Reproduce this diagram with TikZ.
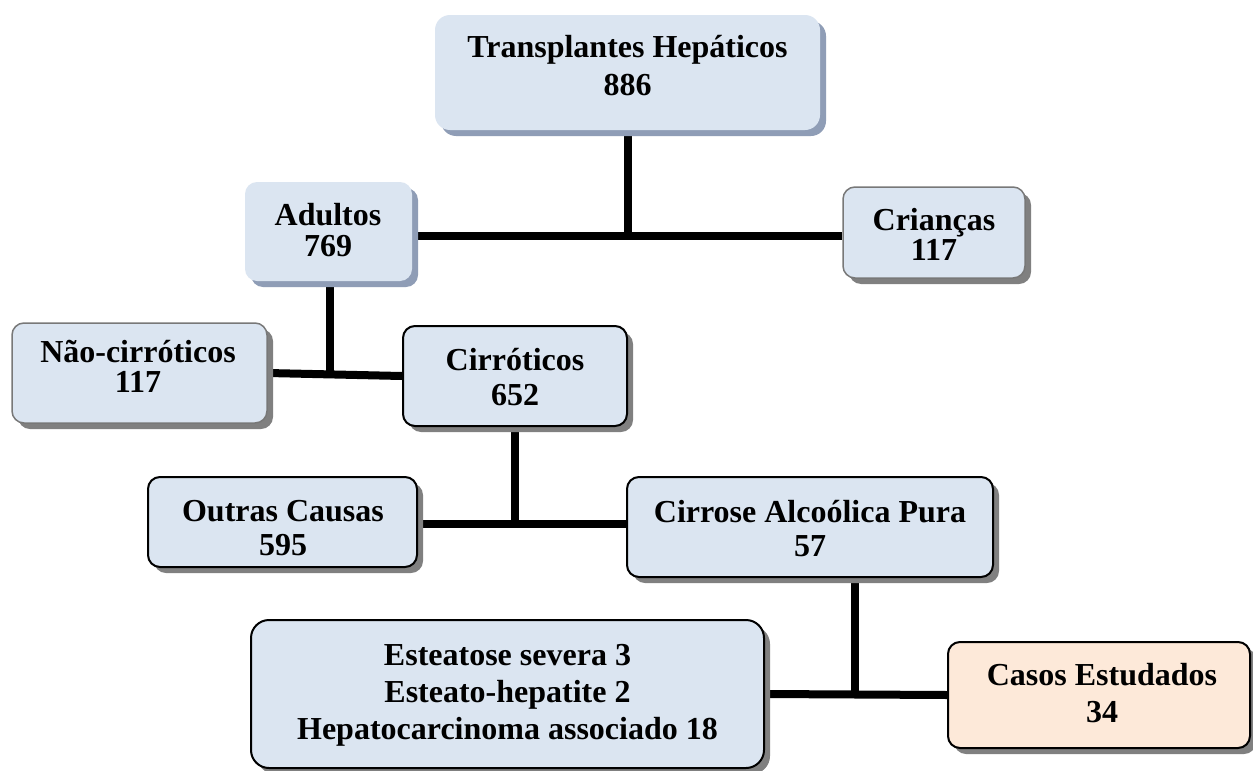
\documentclass[tikz,border=0pt]{standalone}
\usepackage{fontspec}
\setmainfont{Liberation Serif}
\usetikzlibrary{shadows,backgrounds}
\definecolor{boxfill}{RGB}{219,229,241}
\definecolor{peach}{RGB}{253,233,217}
\definecolor{shblue}{RGB}{143,157,182}
\definecolor{shgray}{RGB}{128,128,128}
\definecolor{edgegray}{RGB}{120,120,120}
\tikzset{
  box/.style={rounded corners=12pt, fill=boxfill, inner sep=0pt},
  shb/.style={drop shadow={shadow xshift=6pt,shadow yshift=-6pt,fill=shblue,opacity=1}},
  shg/.style={drop shadow={shadow xshift=6pt,shadow yshift=-6pt,fill=shgray,opacity=1}},
  darkedge/.style={draw=black,line width=2pt},
  grayedge/.style={draw=edgegray,line width=1.5pt},
  txt/.style={anchor=base,inner sep=0pt,font=\fontsize{32}{37}\selectfont\bfseries},
  conn/.style={line width=8pt, draw=black},
}
\begin{document}
\begin{tikzpicture}[x=1pt,y=-1pt]
\useasboundingbox (0,0) rectangle (1253,771);
% boxes
\node[box,shb,rounded corners=15pt,minimum width=385pt,minimum height=115pt] (top) at (627.5,72.5) {};
\node[box,shb,minimum width=167pt,minimum height=99pt] (adultos) at (328.5,231.5) {};
\node[box,shg,grayedge,minimum width=182pt,minimum height=91pt] (criancas) at (934,232.5) {};
\node[box,shg,grayedge,minimum width=255pt,minimum height=100pt] (nao) at (139.5,373) {};
\node[box,shg,darkedge,minimum width=224pt,minimum height=100pt] (cirr) at (515,376) {};
\node[box,shg,darkedge,minimum width=269pt,minimum height=90pt] (outras) at (282.5,522) {};
\node[box,shg,darkedge,minimum width=366pt,minimum height=100pt] (cirrose) at (810,527) {};
\node[box,shg,darkedge,rounded corners=18pt,minimum width=513pt,minimum height=148pt] (esteat) at (507.5,694) {};
\node[box,shg,darkedge,fill=peach,minimum width=302pt,minimum height=106pt] (casos) at (1099,695) {};
% texts
\node[txt] (t-top) at (627.5,57) {\begin{tabular}[t]{@{}c@{}}Transplantes Hepáticos\\[1pt]886\end{tabular}};
\node[txt] (t-adultos) at (328,225) {\begin{tabular}[t]{@{}c@{}}Adultos\\[-6pt]769\end{tabular}};
\node[txt] (t-criancas) at (934,230) {\begin{tabular}[t]{@{}c@{}}Crianças\\[-7pt]117\end{tabular}};
\node[txt] (t-nao) at (138,362) {\begin{tabular}[t]{@{}c@{}}Não-cirróticos\\[-7pt]117\end{tabular}};
\node[txt] (t-cirr) at (515,370) {\begin{tabular}[t]{@{}c@{}}Cirróticos\\[-2pt]652\end{tabular}};
\node[txt] (t-outras) at (283,521) {\begin{tabular}[t]{@{}c@{}}Outras Causas\\[-3pt]595\end{tabular}};
\node[txt] (t-cirrose) at (810,522) {\begin{tabular}[t]{@{}c@{}}Cirrose Alcoólica Pura\\[-3pt]57\end{tabular}};
\node[txt] (t-esteat) at (507.5,665) {\begin{tabular}[t]{@{}c@{}}Esteatose severa 3\\[0pt]Esteato-hepatite 2\\[0pt]Hepatocarcinoma associado 18\end{tabular}};
\node[txt] (t-casos) at (1102,685) {\begin{tabular}[t]{@{}c@{}}Casos Estudados\\[0pt]34\end{tabular}};
% connectors
\begin{scope}[on background layer]
\fill[white] (0,0) rectangle (1253,771);
\coordinate (j1) at (627.5,236);
\coordinate (j3) at (515,524);
\draw[conn] (top.south) -- (j1);
\draw[conn] (adultos.east |- j1) -- (criancas.west |- j1);
\draw[conn] ([xshift=1.5pt]adultos.south) -- ([xshift=1.5pt]adultos.south |- nao.east);
\draw[conn] (nao.east) -- (cirr.west);
\draw[conn] (cirr.south) -- (j3);
\draw[conn] (outras.east |- j3) -- (cirrose.west |- j3);
\draw[conn] ([xshift=45pt]cirrose.south) -- ([xshift=45pt]cirrose.south |- esteat.east);
\draw[conn] (esteat.east) -- (casos.west);
\end{scope}
\end{tikzpicture}
\end{document}
